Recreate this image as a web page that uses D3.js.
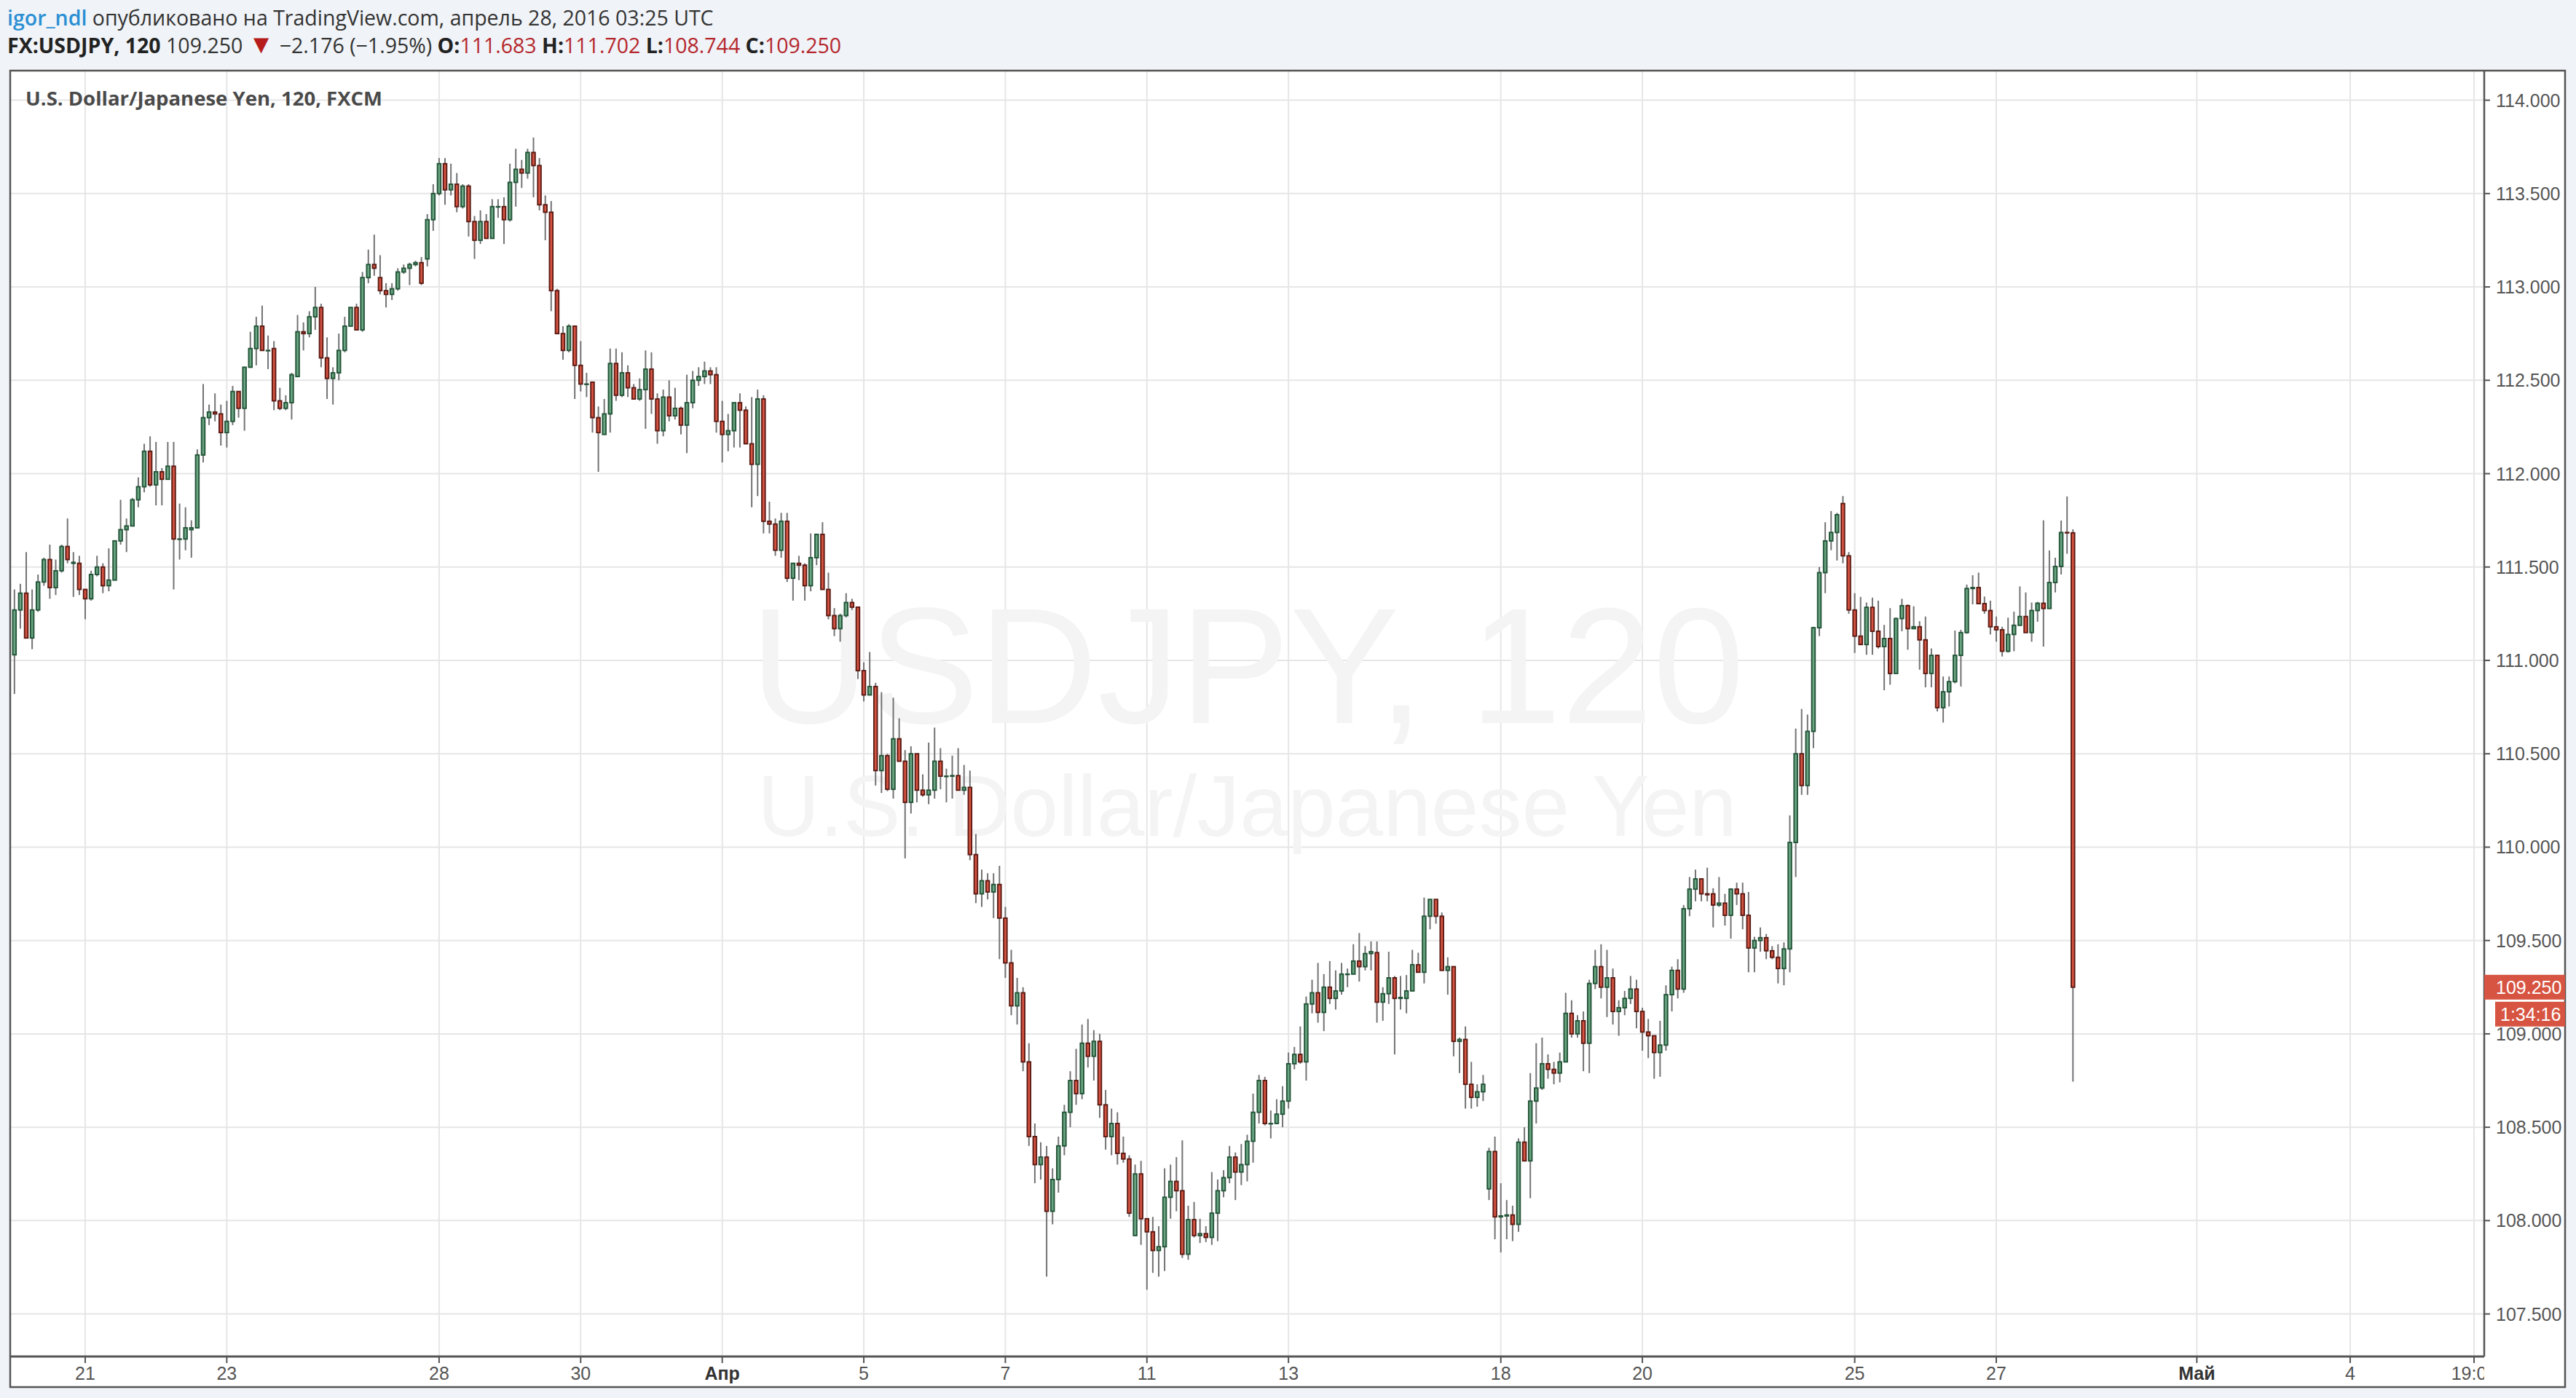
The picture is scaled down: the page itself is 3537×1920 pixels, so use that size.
<!DOCTYPE html>
<html>
<head>
<meta charset="utf-8">
<script src="https://cdn.jsdelivr.net/npm/d3@7"></script>
<style>
  body { margin: 0; background: #f0f3f7; }
  svg { display: block; }
</style>
</head>
<body>
<svg id="chart" width="3537" height="1920"></svg>
<script>
// USDJPY 120 min candles, [open, high, low, close], one row per bar, 12 bars a day
const FIRST_BAR = -12;
const candles = [
  // Mar 18
  [111.03,111.38,110.82,111.27],[111.27,111.41,111.17,111.36],[111.36,111.58,111.12,111.12],[111.12,111.38,111.06,111.27],
  [111.27,111.46,111.26,111.42],[111.42,111.55,111.40,111.54],[111.54,111.62,111.33,111.39],[111.39,111.54,111.35,111.48],
  [111.48,111.62,111.47,111.61],[111.61,111.76,111.52,111.54],[111.52,111.58,111.34,111.525],[111.52,111.56,111.35,111.38],
  // Mar 21
  [111.38,111.38,111.22,111.33],[111.33,111.48,111.32,111.46],[111.46,111.56,111.45,111.50],[111.50,111.52,111.36,111.40],
  [111.40,111.60,111.37,111.43],[111.43,111.64,111.43,111.64],[111.64,111.86,111.62,111.70],[111.70,111.76,111.58,111.72],
  [111.72,111.87,111.72,111.86],[111.86,111.98,111.82,111.93],[111.93,112.16,111.90,112.12],[112.12,112.20,111.93,111.94],
  // Mar 22
  [111.94,112.17,111.83,112.01],[112.01,112.03,111.83,111.97],[111.97,112.17,111.97,112.04],[112.04,112.17,111.38,111.65],
  [111.65,111.84,111.54,111.65],[111.65,111.82,111.59,111.71],[111.70,111.75,111.55,111.71],[111.71,112.13,111.71,112.10],
  [112.10,112.48,112.06,112.30],[112.30,112.37,112.26,112.33],[112.33,112.43,112.28,112.32],[112.32,112.37,112.15,112.22],
  // Mar 23
  [112.22,112.39,112.14,112.28],[112.28,112.47,112.26,112.44],[112.44,112.44,112.30,112.35],[112.35,112.57,112.23,112.57],
  [112.57,112.76,112.57,112.67],[112.67,112.84,112.58,112.79],[112.79,112.90,112.66,112.66],[112.66,112.74,112.56,112.66],
  [112.67,112.71,112.34,112.39],[112.39,112.46,112.34,112.35],[112.35,112.42,112.34,112.38],[112.38,112.54,112.29,112.53],
  // Mar 24
  [112.52,112.85,112.52,112.76],[112.76,112.81,112.66,112.75],[112.75,112.87,112.73,112.84],[112.84,113.00,112.77,112.89],
  [112.89,112.91,112.57,112.62],[112.62,112.73,112.40,112.51],[112.51,112.57,112.37,112.54],[112.54,112.75,112.50,112.66],
  [112.66,112.84,112.65,112.79],[112.79,112.89,112.79,112.89],[112.89,112.91,112.77,112.77],[112.77,113.08,112.76,113.05],
  // Mar 25
  [113.05,113.20,113.02,113.12],[113.12,113.28,113.06,113.10],[113.05,113.17,112.96,112.98],[112.98,113.02,112.89,112.96],
  [112.96,113.02,112.93,112.99],[112.99,113.10,112.98,113.08],[113.08,113.12,113.07,113.10],[113.10,113.13,113.01,113.12],
  [113.12,113.14,113.11,113.13],[113.13,113.16,113.01,113.02],[113.15,113.39,113.11,113.36],[113.36,113.55,113.30,113.50],
  // Mar 28
  [113.50,113.69,113.49,113.66],[113.66,113.69,113.44,113.52],[113.52,113.66,113.49,113.55],[113.55,113.61,113.40,113.43],
  [113.43,113.55,113.42,113.54],[113.54,113.55,113.27,113.35],[113.35,113.38,113.15,113.25],[113.25,113.41,113.23,113.35],
  [113.35,113.39,113.26,113.26],[113.26,113.47,113.26,113.43],[113.43,113.47,113.37,113.43],[113.43,113.48,113.23,113.36],
  // Mar 29
  [113.36,113.66,113.35,113.56],[113.56,113.74,113.43,113.63],[113.63,113.68,113.53,113.61],[113.61,113.74,113.58,113.72],
  [113.72,113.80,113.48,113.65],[113.65,113.69,113.41,113.44],[113.44,113.49,113.25,113.40],[113.40,113.46,112.87,112.98],
  [112.98,112.99,112.75,112.75],[112.75,112.79,112.61,112.66],[112.66,112.80,112.65,112.79],[112.79,112.79,112.40,112.58],
  // Mar 30
  [112.58,112.71,112.44,112.48],[112.48,112.54,112.41,112.48],[112.49,112.49,112.22,112.30],[112.30,112.36,112.01,112.22],
  [112.21,112.40,112.21,112.32],[112.32,112.67,112.22,112.59],[112.59,112.67,112.39,112.42],[112.42,112.65,112.41,112.54],
  [112.54,112.58,112.41,112.46],[112.46,112.48,112.40,112.40],[112.40,112.51,112.39,112.45],[112.45,112.66,112.24,112.56],
  // Mar 31
  [112.56,112.65,112.32,112.40],[112.40,112.43,112.16,112.23],[112.23,112.45,112.20,112.41],[112.41,112.50,112.28,112.31],
  [112.31,112.46,112.29,112.35],[112.35,112.36,112.21,112.26],[112.26,112.53,112.11,112.38],[112.38,112.55,112.35,112.50],
  [112.50,112.57,112.47,112.52],[112.52,112.60,112.48,112.55],[112.55,112.57,112.48,112.53],[112.53,112.57,112.22,112.28],
  // Apr 1
  [112.28,112.39,112.06,112.21],[112.21,112.32,112.12,112.23],[112.23,112.38,112.14,112.38],[112.38,112.43,112.14,112.34],
  [112.34,112.36,112.16,112.16],[112.16,112.41,111.82,112.05],[112.05,112.45,111.88,112.40],[112.40,112.42,111.68,111.745],
  [111.745,111.85,111.68,111.73],[111.73,111.76,111.56,111.59],[111.59,111.79,111.55,111.745],[111.745,111.79,111.42,111.44],
  // Apr 4
  [111.44,111.52,111.32,111.52],[111.52,111.56,111.43,111.51],[111.51,111.52,111.32,111.40],[111.40,111.68,111.37,111.55],
  [111.55,111.675,111.51,111.675],[111.675,111.74,111.38,111.38],[111.38,111.47,111.22,111.24],[111.24,111.28,111.13,111.17],
  [111.17,111.25,111.10,111.24],[111.24,111.36,111.23,111.31],[111.31,111.33,111.27,111.285],[111.285,111.285,110.90,110.945],
  // Apr 5
  [110.945,110.99,110.78,110.815],[110.815,111.045,110.815,110.86],[110.86,110.88,110.33,110.41],[110.41,110.83,110.29,110.49],
  [110.49,110.50,110.30,110.31],[110.31,110.80,110.26,110.58],[110.58,110.69,110.46,110.46],[110.46,110.52,109.94,110.24],
  [110.24,110.54,110.18,110.50],[110.50,110.50,110.24,110.305],[110.305,110.39,110.27,110.28],[110.28,110.56,110.23,110.305],
  // Apr 6
  [110.305,110.64,110.26,110.46],[110.46,110.53,110.31,110.38],[110.38,110.42,110.24,110.38],[110.38,110.49,110.26,110.383],
  [110.383,110.53,110.305,110.305],[110.305,110.44,110.28,110.32],[110.32,110.41,109.93,109.96],[109.96,110.07,109.70,109.75],
  [109.75,109.88,109.68,109.82],[109.82,109.86,109.72,109.76],[109.76,109.86,109.62,109.80],[109.80,109.90,109.40,109.62],
  // Apr 7
  [109.62,109.68,109.30,109.38],[109.38,109.45,109.10,109.15],[109.15,109.30,109.05,109.22],[109.22,109.25,108.80,108.85],
  [108.85,108.95,108.40,108.45],[108.45,108.52,108.20,108.30],[108.30,108.42,108.22,108.34],[108.34,108.40,107.70,108.05],
  [108.05,108.28,107.98,108.22],[108.22,108.45,108.15,108.40],[108.40,108.62,108.35,108.58],[108.58,108.80,108.50,108.75],
  // Apr 8
  [108.75,108.92,108.62,108.68],[108.68,109.05,108.65,108.95],[108.95,109.08,108.82,108.88],[108.88,109.02,108.75,108.96],
  [108.96,109.00,108.55,108.62],[108.62,108.70,108.38,108.45],[108.45,108.60,108.35,108.52],[108.52,108.58,108.30,108.36],
  [108.36,108.45,108.31,108.33],[108.33,108.35,108.02,108.04],[107.92,108.30,107.92,108.25],[108.25,108.32,107.87,108.01],
  // Apr 11
  [108.01,108.01,107.63,107.94],[107.94,108.02,107.72,107.84],[107.84,107.97,107.70,107.86],[107.86,108.28,107.73,108.125],
  [108.125,108.30,108.01,108.21],[108.21,108.34,108.05,108.16],[108.16,108.43,107.80,107.82],[107.82,108.08,107.79,108.005],
  [108.005,108.10,107.91,107.92],[107.92,108.01,107.88,107.93],[107.93,107.97,107.885,107.91],[107.91,108.26,107.87,108.04],
  // Apr 12
  [108.04,108.22,107.89,108.16],[108.16,108.27,108.125,108.23],[108.23,108.40,108.20,108.34],[108.34,108.365,108.11,108.26],
  [108.26,108.41,108.19,108.30],[108.30,108.46,108.21,108.425],[108.425,108.68,108.31,108.58],[108.58,108.78,108.52,108.75],
  [108.75,108.77,108.51,108.52],[108.52,108.59,108.44,108.52],[108.52,108.65,108.52,108.57],[108.57,108.72,108.50,108.64],
  // Apr 13
  [108.64,108.90,108.60,108.84],[108.84,108.93,108.81,108.89],[108.89,109.04,108.84,108.85],[108.85,109.20,108.75,109.16],
  [109.16,109.29,109.11,109.22],[109.22,109.38,109.06,109.115],[109.115,109.32,109.015,109.25],[109.25,109.39,109.16,109.19],
  [109.19,109.34,109.13,109.23],[109.23,109.38,109.21,109.32],[109.32,109.35,109.25,109.32],[109.32,109.48,109.32,109.39],
  // Apr 14
  [109.39,109.54,109.28,109.36],[109.36,109.47,109.34,109.43],[109.43,109.495,109.34,109.44],[109.435,109.495,109.06,109.17],
  [109.17,109.25,109.07,109.215],[109.215,109.44,109.16,109.30],[109.30,109.31,108.89,109.19],[109.19,109.31,109.13,109.195],
  [109.19,109.315,109.11,109.23],[109.23,109.45,109.23,109.37],[109.37,109.435,109.33,109.33],[109.33,109.73,109.27,109.63],
  // Apr 15
  [109.63,109.72,109.56,109.72],[109.72,109.72,109.59,109.63],[109.63,109.65,109.34,109.34],[109.34,109.41,109.21,109.36],
  [109.36,109.36,108.88,108.96],[108.96,108.98,108.79,108.97],[108.97,109.04,108.60,108.73],[108.73,108.85,108.60,108.66],
  [108.66,108.73,108.61,108.69],[108.69,108.78,108.64,108.73],[108.17,108.39,108.11,108.37],[108.37,108.45,107.90,108.02],
  // Apr 18
  [108.02,108.20,107.83,108.025],[108.025,108.11,107.90,108.03],[108.03,108.08,107.89,107.98],[107.98,108.44,107.94,108.42],
  [108.42,108.50,108.32,108.32],[108.32,108.79,108.12,108.64],[108.64,108.95,108.52,108.71],[108.71,108.98,108.70,108.84],
  [108.84,108.89,108.76,108.81],[108.81,108.85,108.73,108.79],[108.79,108.90,108.74,108.85],[108.85,109.22,108.85,109.11],
  // Apr 19
  [109.11,109.18,108.98,109.00],[109.00,109.10,108.98,109.07],[109.07,109.12,108.80,108.95],[108.95,109.29,108.79,109.27],
  [109.27,109.45,109.24,109.36],[109.36,109.48,109.19,109.25],[109.25,109.45,109.09,109.30],[109.30,109.35,109.05,109.12],
  [109.12,109.18,108.99,109.14],[109.14,109.23,109.10,109.19],[109.19,109.31,109.16,109.24],[109.24,109.29,109.03,109.12],
  // Apr 20
  [109.12,109.14,108.91,109.01],[109.01,109.08,108.87,108.99],[108.99,108.99,108.76,108.90],[108.90,109.07,108.77,108.94],
  [108.94,109.26,108.91,109.21],[109.21,109.36,109.12,109.34],[109.34,109.40,109.19,109.24],[109.24,109.69,109.22,109.67],
  [109.67,109.84,109.63,109.775],[109.775,109.88,109.71,109.83],[109.83,109.83,109.71,109.75],[109.75,109.89,109.71,109.745],
  // Apr 21
  [109.75,109.78,109.57,109.69],[109.69,109.84,109.68,109.70],[109.70,109.75,109.58,109.635],[109.635,109.78,109.51,109.775],
  [109.775,109.81,109.69,109.75],[109.75,109.81,109.56,109.635],[109.635,109.76,109.33,109.46],[109.46,109.52,109.33,109.50],
  [109.50,109.57,109.44,109.515],[109.515,109.535,109.40,109.445],[109.445,109.47,109.40,109.41],[109.41,109.48,109.27,109.35],
  // Apr 22
  [109.35,109.49,109.26,109.455],[109.455,110.17,109.33,110.025],[110.025,110.635,109.84,110.50],[110.50,110.74,110.28,110.33],
  [110.33,110.71,110.28,110.62],[110.62,111.18,110.53,111.175],[111.175,111.50,111.13,111.47],[111.47,111.74,111.36,111.64],
  [111.64,111.80,111.59,111.685],[111.685,111.79,111.535,111.78],[111.84,111.88,111.52,111.56],[111.56,111.58,111.25,111.27],
  // Apr 25
  [111.27,111.36,111.04,111.13],[111.13,111.34,111.085,111.085],[111.085,111.31,111.03,111.284],[111.284,111.336,111.03,111.156],
  [111.156,111.32,111.064,111.074],[111.074,111.19,110.84,111.117],[111.117,111.28,110.87,110.93],[110.93,111.23,110.93,111.224],
  [111.224,111.33,111.156,111.293],[111.293,111.30,111.057,111.17],[111.17,111.29,111.17,111.18],[111.18,111.21,110.95,111.11],
  // Apr 26
  [111.11,111.235,110.856,110.93],[110.93,111.064,110.856,111.027],[111.027,111.027,110.727,110.747],[110.747,110.914,110.667,110.832],
  [110.832,110.914,110.753,110.886],[110.886,111.16,110.877,111.027],[111.027,111.164,110.86,111.149],[111.149,111.406,111.143,111.385],
  [111.385,111.456,111.30,111.39],[111.39,111.47,111.30,111.304],[111.304,111.342,111.25,111.267],[111.267,111.32,111.139,111.18],
  // Apr 27
  [111.18,111.235,111.10,111.164],[111.164,111.18,111.021,111.049],[111.049,111.229,111.042,111.139],[111.139,111.261,111.049,111.188],
  [111.188,111.396,111.188,111.235],[111.235,111.364,111.149,111.149],[111.149,111.31,111.10,111.267],[111.267,111.314,111.207,111.306],
  [111.306,111.75,111.074,111.278],[111.278,111.589,111.278,111.417],[111.417,111.55,111.364,111.503],[111.503,111.749,111.46,111.685],
  // Apr 28
  [111.685,111.878,111.571,111.683],[111.683,111.702,108.744,109.250]
];

const priceTicks = [107.5, 108, 108.5, 109, 109.5, 110, 110.5, 111, 111.5, 112, 112.5, 113, 113.5, 114];
// date labels and the bar where each one sits
const dateLabels = ["21", "23", "28", "30", "Апр", "5", "7", "11", "13", "18", "20", "25", "27", "Май", "4", "19:00"];
const dateBars   = [0, 24, 60, 84, 108, 132, 156, 180, 204, 240, 264, 300, 324, 358, 384, 405];
const boldLabels = ["Апр", "Май"];

const lastPrice = 109.25;
const countdown = "1:34:16";

const UP = "#6ba583", UP_BORDER = "#225437";
const DOWN = "#d75442", DOWN_BORDER = "#5b1a13";
const WICK = "#737375";
const AXIS_FONT = "'Liberation Sans', Arial, sans-serif";
const HEAD_FONT = "'Open Sans', 'Liberation Sans', sans-serif";

const W = 3537, H = 1920;
const plot = { left: 14, top: 97, right: 3411, bottom: 1863 };
const frame = { right: 3522, bottom: 1905 };

const svg = d3.select("#chart");

const x = d3.scaleLinear().domain([0, 324]).range([117, 2741]);
const y = d3.scaleLinear().domain([107.5, 114]).range([1804.6, 137.6]);

// backgrounds
svg.append("rect").attr("width", W).attr("height", H).attr("fill", "#f0f3f7");
svg.append("rect")
  .attr("x", plot.left).attr("y", plot.top)
  .attr("width", frame.right - plot.left).attr("height", frame.bottom - plot.top)
  .attr("fill", "#fff");

svg.append("clipPath").attr("id", "plotClip")
  .append("rect")
  .attr("x", plot.left).attr("y", plot.top)
  .attr("width", plot.right - plot.left).attr("height", plot.bottom - plot.top);

const g = svg.append("g").attr("clip-path", "url(#plotClip)");

// grid
g.selectAll("line.hgrid").data(priceTicks).join("line")
  .attr("class", "hgrid")
  .attr("x1", plot.left).attr("x2", plot.right)
  .attr("y1", d => y(d)).attr("y2", d => y(d))
  .attr("stroke", "#e6e6e6").attr("stroke-width", 2);

g.selectAll("line.vgrid").data(dateBars).join("line")
  .attr("class", "vgrid")
  .attr("x1", d => x(d)).attr("x2", d => x(d))
  .attr("y1", plot.top).attr("y2", plot.bottom)
  .attr("stroke", "#e6e6e6").attr("stroke-width", 2);

// watermark
const midX = (plot.left + plot.right) / 2;
g.append("text")
  .attr("x", midX).attr("y", 993)
  .attr("text-anchor", "middle")
  .attr("font-family", AXIS_FONT).attr("font-size", 226)
  .attr("fill", "#f4f4f4")
  .text("USDJPY, 120");
g.append("text")
  .attr("x", midX).attr("y", 1148)
  .attr("text-anchor", "middle")
  .attr("font-family", AXIS_FONT).attr("font-size", 118)
  .attr("fill", "#f4f4f4")
  .text("U.S. Dollar/Japanese Yen");

// candles
const bars = candles.map((c, i) => ({ i: FIRST_BAR + i, o: c[0], h: c[1], l: c[2], c: c[3] }));

g.selectAll("line.wick").data(bars).join("line")
  .attr("class", "wick")
  .attr("x1", d => x(d.i)).attr("x2", d => x(d.i))
  .attr("y1", d => y(d.h)).attr("y2", d => y(d.l))
  .attr("stroke", WICK).attr("stroke-width", 2);

g.selectAll("rect.body").data(bars).join("rect")
  .attr("class", "body")
  .attr("x", d => x(d.i) - 2.3)
  .attr("width", 4.6)
  .attr("y", d => y(Math.max(d.o, d.c)))
  .attr("height", d => Math.max(0.5, Math.abs(y(d.o) - y(d.c))))
  .attr("fill", d => d.c >= d.o ? UP : DOWN)
  .attr("stroke", d => d.c >= d.o ? UP_BORDER : DOWN_BORDER)
  .attr("stroke-width", 1.9);

// series title
g.append("text")
  .attr("x", 35).attr("y", 145)
  .attr("font-family", HEAD_FONT).attr("font-weight", "bold")
  .attr("font-size", 27.5).attr("fill", "#4a4a4a")
  .text("U.S. Dollar/Japanese Yen, 120, FXCM");

// frame
svg.append("rect")
  .attr("x", plot.left).attr("y", plot.top)
  .attr("width", frame.right - plot.left).attr("height", frame.bottom - plot.top)
  .attr("fill", "none").attr("stroke", "#555").attr("stroke-width", 2.5);
svg.append("line")
  .attr("x1", plot.right).attr("x2", plot.right)
  .attr("y1", plot.top).attr("y2", plot.bottom)
  .attr("stroke", "#555").attr("stroke-width", 2.5);
svg.append("line")
  .attr("x1", plot.left).attr("x2", plot.right)
  .attr("y1", plot.bottom).attr("y2", plot.bottom)
  .attr("stroke", "#555").attr("stroke-width", 3);

// price axis
const yAxis = svg.append("g");
yAxis.selectAll("line").data(priceTicks).join("line")
  .attr("x1", plot.right).attr("x2", plot.right + 8)
  .attr("y1", d => y(d)).attr("y2", d => y(d))
  .attr("stroke", "#555").attr("stroke-width", 2);
yAxis.selectAll("text").data(priceTicks).join("text")
  .attr("x", plot.right + 16).attr("y", d => y(d) + 9)
  .attr("font-family", AXIS_FONT).attr("font-size", 25)
  .attr("fill", "#555")
  .text(d => d3.format(".3f")(d));

// last price + countdown labels
svg.append("rect")
  .attr("x", plot.right).attr("y", y(lastPrice) - 17)
  .attr("width", frame.right - plot.right).attr("height", 34)
  .attr("fill", DOWN);
svg.append("text")
  .attr("x", plot.right + 16).attr("y", y(lastPrice) + 9)
  .attr("font-family", AXIS_FONT).attr("font-size", 25)
  .attr("fill", "#fff")
  .text(d3.format(".3f")(lastPrice));
svg.append("rect")
  .attr("x", plot.right + 15).attr("y", y(lastPrice) + 20)
  .attr("width", frame.right - plot.right - 15).attr("height", 34)
  .attr("fill", DOWN);
svg.append("text")
  .attr("x", plot.right + 22).attr("y", y(lastPrice) + 46)
  .attr("font-family", AXIS_FONT).attr("font-size", 25)
  .attr("fill", "#fff")
  .text(countdown);

// time axis
svg.append("clipPath").attr("id", "timeClip")
  .append("rect")
  .attr("x", plot.left).attr("y", plot.bottom)
  .attr("width", plot.right - plot.left).attr("height", frame.bottom - plot.bottom);

const xAxis = svg.append("g").attr("clip-path", "url(#timeClip)");
xAxis.selectAll("line").data(dateBars).join("line")
  .attr("x1", d => x(d)).attr("x2", d => x(d))
  .attr("y1", plot.bottom).attr("y2", plot.bottom + 9)
  .attr("stroke", "#555").attr("stroke-width", 2);
xAxis.selectAll("text").data(dateLabels).join("text")
  .attr("x", (d, i) => x(dateBars[i]))
  .attr("y", 1895)
  .attr("text-anchor", "middle")
  .attr("font-family", AXIS_FONT).attr("font-size", 25)
  .attr("font-weight", d => boldLabels.includes(d) ? "bold" : "normal")
  .attr("fill", d => boldLabels.includes(d) ? "#333" : "#555")
  .text(d => d);

// header
const head1 = svg.append("text")
  .attr("x", 10).attr("y", 35)
  .attr("font-family", HEAD_FONT).attr("font-size", 28.5);
head1.append("tspan").attr("fill", "#2a8fd3").attr("font-weight", 600).text("igor_ndl");
head1.append("tspan").attr("fill", "#333").text(" опубликовано на TradingView.com, апрель 28, 2016 03:25 UTC");

const head2 = svg.append("text")
  .attr("x", 10).attr("y", 73)
  .attr("font-family", HEAD_FONT).attr("font-size", 28.5).attr("fill", "#333");
head2.append("tspan").attr("font-weight", "bold").attr("fill", "#222").text("FX:USDJPY, 120");
head2.append("tspan").text(" 109.250 ");
head2.append("tspan").attr("fill", "#b71c1c").attr("font-size", 36).attr("font-family", AXIS_FONT).text("▼");
head2.append("tspan").text(" \u22122.176 (\u22121.95%) ");
const ohlc = [["O:", "111.683"], ["H:", "111.702"], ["L:", "108.744"], ["C:", "109.250"]];
ohlc.forEach(([k, v], i) => {
  head2.append("tspan").attr("font-weight", "bold").attr("fill", "#222").text((i ? " " : "") + k);
  head2.append("tspan").attr("fill", "#b5272d").text(v);
});
</script>
</body>
</html>
